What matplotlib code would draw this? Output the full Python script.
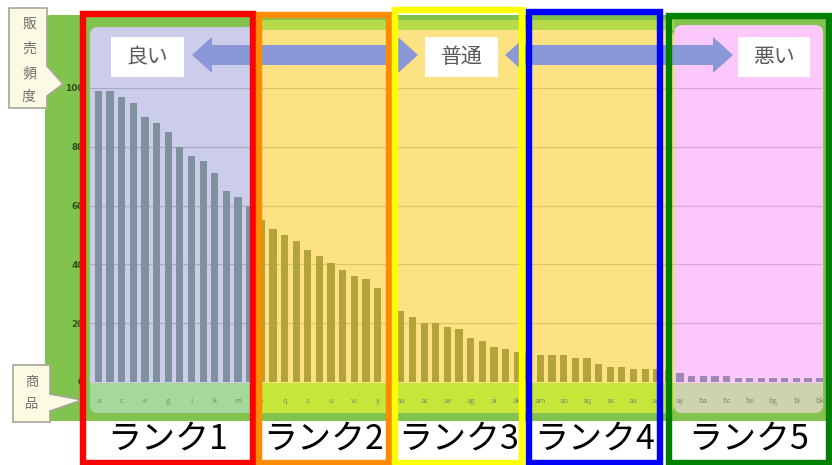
import matplotlib
matplotlib.use('Agg')
import matplotlib.pyplot as plt
from matplotlib.patches import FancyBboxPatch, Rectangle, Polygon

plt.rcParams['font.family'] = ['Noto Sans CJK JP', 'DejaVu Sans']

# --- data ---
products = ("a b c d e f g h i j k l m n o p q r s t u v w x y z "
            "aa ab ac ad ae af ag ah ai aj ak al am an ao ap aq ar as at au av aw ax "
            "ay az ba bb bc bd be bf bg bh bi bj bk").split()
rank1 = [99, 99, 97, 95, 90, 88, 85, 80, 77, 75, 71, 65, 63, 60]
rank2 = [55, 52, 50, 48, 45, 43, 40.5, 38, 36, 35, 32, 30.5]
rank3 = [24, 22, 20.2, 20, 18.6, 17.9, 14.9, 14, 12, 11.1, 10.3, 9.8]
rank4 = [9.2, 9.2, 9, 8, 8, 6.1, 5.2, 5.2, 4.3, 4.3, 4.3, 4]
rank5 = [3, 2, 2, 2, 2, 1.5, 1.2, 1.2, 1.2, 1.2, 1.2, 1.2, 1.2]
ranks = [rank1, rank2, rank3, rank4, rank5]
rank_names = ['ランク1', 'ランク2', 'ランク3', 'ランク4', 'ランク5']
yticks = [0, 20, 40, 60, 80, 100]
zone_names = ['良い', '普通', '悪い']
y_title = '販売頻度'
x_title = '商品'

W, H = 832, 465
fig = plt.figure(figsize=(W / 100, H / 100), dpi=100)
fig.patch.set_facecolor('white')


def px_axes(z):
    a = fig.add_axes([0, 0, 1, 1], zorder=z)
    a.set_xlim(0, W)
    a.set_ylim(H, 0)
    a.axis('off')
    a.patch.set_visible(False)
    return a


bg = px_axes(0)
# green frame
bg.add_patch(FancyBboxPatch((45, 15), 800, 406, boxstyle='round,pad=0,rounding_size=6',
                            fc='#82c34e', ec='none'))

# main chart axes
ax = fig.add_axes([88 / W, 1 - 414 / H, (824 - 88) / W, (414 - 20) / H], zorder=1)
ax.patch.set_visible(False)
ax.set_xlim(-0.9, 62.38)
ax.set_ylim(-10.9, 123.1)
for s in ax.spines.values():
    s.set_visible(False)

asp = 3.96
panels = [(-0.73, 13.5, 120.7, '#cbcdea', '#a7d89b', '#a9a9c8'),
          (13.5, 49.5, 119.7, '#fde283', '#c6e63a', '#e0c46c'),
          (49.5, 62.3, 121.4, '#fcc8fc', '#cdd3ad', '#d8a8dc')]
for x0, x1, top, col, band, gcol in panels:
    ax.add_patch(FancyBboxPatch((x0, -10.5), x1 - x0, top + 10.5,
                                boxstyle='round,pad=0,rounding_size=0.69',
                                mutation_aspect=asp, fc=col, ec='none', zorder=0.5))
    ax.add_patch(FancyBboxPatch((x0, -10.5), x1 - x0, 10.1,
                                boxstyle='round,pad=0,rounding_size=0.69',
                                mutation_aspect=asp, fc=band, ec='none', zorder=0.6))
    ax.add_patch(Rectangle((x0, -5), x1 - x0, 4.6, fc=band, ec='none', zorder=0.6))
    ax.hlines(yticks[1:], x0, x1, colors=gcol, lw=0.9, zorder=1)
# yellow-green stripe above the middle panel
ax.add_patch(Rectangle((13.5, 119.7), 36, 3.4, fc='#b7da4a', ec='none', zorder=0.5))

bar_cols = ['#7e919d', '#b2a43b', '#b2a43b', '#b2a43b', '#9c88b4']
start = 0
for vals, c in zip(ranks, bar_cols):
    xs = list(range(start, start + len(vals)))
    ax.bar(xs, vals, width=0.62, color=c, zorder=2)
    start += len(vals)

for i in range(0, len(products), 2):
    ax.text(i, -6.6, products[i], ha='center', va='center', fontsize=5.5,
            color='#7f8f6a', zorder=3)

ax.set_xticks([])
ax.set_yticks(yticks)
ax.set_yticklabels([str(v) for v in yticks], fontsize=6.5, color='#2f4f1f',
                   fontweight='bold', family='DejaVu Sans')
ax.tick_params(axis='y', length=0, pad=3)

# callout boxes
bg.add_patch(Polygon([(9, 8), (47, 8), (47, 66), (63, 84), (47, 96), (47, 108), (9, 108)],
                     closed=True, fc='#fbfbe3', ec='#a5a59a', lw=1.2, zorder=3))
for ch, yy in zip(y_title, [24, 49, 73, 97]):
    bg.text(29, yy, ch, ha='center', va='center', fontsize=10, color='#707070', zorder=4)
bg.add_patch(Polygon([(13, 365), (50, 365), (50, 394), (82, 400), (50, 411), (50, 422), (13, 422)],
                     closed=True, fc='#fbfbe3', ec='#a5a59a', lw=1.2, zorder=3))
for ch, yy in zip(x_title, [382, 404]):
    bg.text(32, yy, ch, ha='center', va='center', fontsize=9.5, color='#707070', zorder=4)

fg = px_axes(3)


def double_arrow(x1, x2, yc, sh=10, hh=18, hl=20):
    pts = [(x1, yc), (x1 + hl, yc - hh), (x1 + hl, yc - sh), (x2 - hl, yc - sh),
           (x2 - hl, yc - hh), (x2, yc), (x2 - hl, yc + hh), (x2 - hl, yc + sh),
           (x1 + hl, yc + sh), (x1 + hl, yc + hh)]
    fg.add_patch(Polygon(pts, closed=True, fc='#8b98d8', ec='none', zorder=1))


double_arrow(192, 418, 55)
double_arrow(505, 733, 55)

for (bx0, bx1), name in zip([(111, 184), (425, 498), (738, 810)], zone_names):
    fg.add_patch(Rectangle((bx0, 37), bx1 - bx0, 40, fc='white', ec='none', zorder=2))
    fg.text((bx0 + bx1) / 2, 57, name, ha='center', va='center', fontsize=15,
            color='#5a5a5a', zorder=3)

boxes = [(82.5, 253, 14, '#ff0000'), (259, 389, 15, '#ff8c00'), (395, 522, 10.5, '#ffff00'),
         (528.5, 660, 12.5, '#0000ff'), (668.5, 828.5, 16.5, '#008000')]
for (x0, x1, top, col), name in zip(boxes, rank_names):
    fg.add_patch(Rectangle((x0, top), x1 - x0, 463 - top, fill=False, ec=col, lw=4.6, zorder=4))
    fg.text((x0 + x1) / 2, 439, name, ha='center', va='center', fontsize=24.5,
            color='black', zorder=5)

fig.savefig('out.png', dpi=100)
